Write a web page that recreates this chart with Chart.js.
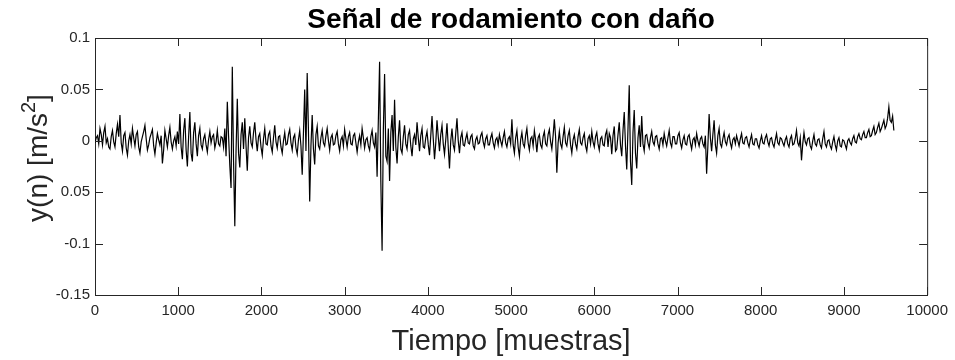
<!DOCTYPE html>
<html>
<head>
<meta charset="utf-8">
<script src="https://cdn.jsdelivr.net/npm/chart.js@4"></script>
<style>
  body { margin: 0; background: #fff; }
</style>
</head>
<body>
<canvas id="signalChart" width="955" height="360"></canvas>
<script>
// sample spacing of the values below, in samples
const sampleStep = 15;

// y(n), in thousandths of m/s^2
const signalMilli = [
  -2, 3, 5, -3, 12, 6, -4, 8, 14, -2, 2, -6, -8, 4, 10, -1, -6, 7, 16, 4,
  25, -2, -10, 5, 8, -7, -14, 0, 6, -3, 12, 3, -5, 6, 9, -6, -12, -1, 4, 9,
  15, 2, -9, -4, 3, 7, 11, -5, -13, -2, 7, 1, -4, 5, -22, -9, 10, 2, -6, 5,
  13, -1, -8, 0, 4, -5, 9, -3,
  26, -6, -18, 10, 22, -9, -25, 4, 28, -12, -20, 8, 18, -3, -15, 5, 12, -4,
  -8, 2, 6, -4, -11, 1, 9, -2, 4, 6, -7, -1, 10, -3, -5, 4, 3, -6,
  12, -15, 38, 5, -24, -46, 72, -20, -83, -10, 41, -12, -26, 6, 18, -8,
  22, -5, -29, 3, 14, -2, -6, 8, 18, 1, -10, 4, 7, -6, -14, 2, 12, -3, -4, 6,
  9, -5, -11, 3, 15, -1, -7, 4, 5, -6, -12, 0, 8, -4, -3, 6, 11, -2, -9, 3,
  6, -7, -13, 1, 10, -5,
  -33, 8, 50, -10, 66, 10, -59, -5, 25, -8, -23, 6, 14, -5,
  -8, 3, 10, -2, -5, 5, 12, 0, -9, 3, 6, -4, -3, 5, 9, -3, -10, 1, 4, -5,
  11, 2, -6, 4, 8, -3, -4, 5, 7, -2, -11, -1, 5, -4, 12, 3, -7, 1, 3, -5,
  -9, 4, 10, -2, -6, 8,
  -35, 20, 77, -40, -107, 10, 65, -15, -20, 12, -39, 8, 25, -10, 40, -6, -22, 4, 20, -8,
  -12, 4, 15, -3, -8, 6, 10, -5, -15, 2, 6, -4, 18, 3, -10, 5, 12, -6, -7, 3,
  9, -4, -14, 5, 24, 2, -18, -2, 20, 4, -10, 6, 15, -3, -13, 1, 17, -6, -27, 0,
  12, -4, -9, 7, 22, 0, -12, 3, 8, -4,
  -5, 2, 7, -2, -3, 4, 6, -5, -8, 1, 4, -3, -2, 5, 8, -1, -6, 2, 5, -4,
  -4, 3, 7, -2, -7, 1, 3, -4, 6, 0, -5, 3, 9, -2, -6, 2, 4, -3,
  21, -4, -12, 3, 10, -6, -15, 1, 8, -3, -6, 5, 12, -2, -9, 2, 4, -5, 10, 1,
  -11, 3, 6, -4, -7, 4, 9, -3, -5, 6, 11, -1, -8, 5,
  21, 4, -31, -2,
  9, -3, -7, 4, 13, -2, -5, 5, 10, -4, -12, 1, 6, -3, -8, 4, 11, -2, -4, 3,
  7, -5, -10, 2, 5, -3, 9, -1, -6, 4, 8, -3, -9, 2, 4, -4, -5, 6, 10, -6,
  7, 3, -13, 5, 14, -10, -8, 6, 18, -4,
  -15, 10, 28, -5, -28, 12, 54, -20, -43, 8, 30, -12, -27, 3, 15, -6, 24, -3, -10, 5,
  6, -2, -7, 3, 9, -1, -4, 4, 5, -3, -8, 2, 3, -4, 7, 0, -5, 3, 10, -2,
  -6, 4, 4, -3, -3, 5, 8, -2, -7, 1, 5, -3, -4, 4, 6, -2, -8, 1, 3, -4,
  7, 0, -5, 2, 4, -3, -6, 5,
  -32, -5, 26, 3, -10, 6, 20, -4, -12, 5, 12, -3,
  -6, 2, 8, -1, -4, 3, 6, -2, -7, 1, 3, -3, 5, 0, -5, 2, 7, -2, -3, 3,
  4, -2, -6, 1, 6, -3, -4, 2, 2, -4, -7, 0, 5, -2, -3, 3, 6, -1, -5, 2,
  3, -3, -6, 1, 7, -2, -4, 3, 2, -2, -5, 1, 4, -3, -6, 2, 5, -4, -3, 2,
  10, -2, -5, 3, -19, -3, 8, -1, -4, 2, 3, -5, -8, 0, 6, -3, -5, 1, 2, -4,
  -7, 2, 9, -3, -6, 0, 1, -5, -8, -1, 4, -4, -9, 0, 3, -5, -6, 1, 0, -4,
  -8, 0, 2, -2,
  -4, 2, 5, -1, -2, 4, 7, 2, 1, 6, 9, 3, 3, 8, 11, 4, 5, 10, 14, 6,
  8, 13, 17, 9, 12, 16, 20, 12, 15, 22, 33, 20, 18, 24, 10
];

const xTicks = [0, 1000, 2000, 3000, 4000, 5000, 6000, 7000, 8000, 9000, 10000];
const yTicks = [-0.15, -0.1, -0.05, 0, 0.05, 0.1];
const yTickLabels = ["-0.15", "-0.1", "0.05", "0", "0.05", "0.1"];

const titleText = "Señal de rodamiento con daño";
const xLabelText = "Tiempo [muestras]";

const points = signalMilli.map((v, i) => ({ x: i * sampleStep, y: v / 1000 }));

const axisColor = "#262626";
const fontFamily = "'Liberation Sans', Arial, Helvetica, sans-serif";

// MATLAB style box: top/right edges, inward ticks, title and axis labels
const matlabFrame = {
  id: "matlabFrame",
  afterDraw: (chart) => {
    const { ctx, chartArea: a, scales } = chart;
    const tick = 8;
    ctx.save();
    ctx.strokeStyle = axisColor;
    ctx.lineWidth = 1;
    ctx.beginPath();
    ctx.moveTo(a.left, a.top + 0.5);
    ctx.lineTo(a.right + 0.5, a.top + 0.5);
    ctx.lineTo(a.right + 0.5, a.bottom);
    xTicks.forEach((t) => {
      const px = Math.round(scales.x.getPixelForValue(t)) + 0.5;
      ctx.moveTo(px, a.bottom);
      ctx.lineTo(px, a.bottom - tick);
      ctx.moveTo(px, a.top);
      ctx.lineTo(px, a.top + tick);
    });
    yTicks.forEach((t) => {
      const py = Math.round(scales.y.getPixelForValue(t)) + 0.5;
      ctx.moveTo(a.left, py);
      ctx.lineTo(a.left + tick, py);
      ctx.moveTo(a.right, py);
      ctx.lineTo(a.right - tick, py);
    });
    ctx.stroke();

    const cx = (a.left + a.right) / 2;
    ctx.fillStyle = "#000";
    ctx.textAlign = "center";
    ctx.textBaseline = "alphabetic";
    ctx.font = "bold 28px " + fontFamily;
    ctx.fillText(titleText, cx, 28);

    ctx.fillStyle = axisColor;
    ctx.font = "29px " + fontFamily;
    ctx.fillText(xLabelText, cx, 350);

    // y label with superscript 2
    const base = "28px " + fontFamily;
    const sup = "20px " + fontFamily;
    ctx.font = base;
    const p1 = "y(n) [m/s", p3 = "]";
    const w1 = ctx.measureText(p1).width;
    const w3 = ctx.measureText(p3).width;
    ctx.font = sup;
    const w2 = ctx.measureText("2").width;
    const total = w1 + w2 + w3;
    ctx.translate(47, 158);
    ctx.rotate(-Math.PI / 2);
    ctx.textAlign = "left";
    ctx.font = base;
    ctx.fillText(p1, -total / 2, 0);
    ctx.font = sup;
    ctx.fillText("2", -total / 2 + w1, -12);
    ctx.font = base;
    ctx.fillText(p3, -total / 2 + w1 + w2, 0);
    ctx.restore();
  },
};

new Chart(document.getElementById("signalChart").getContext("2d"), {
  type: "line",
  data: {
    datasets: [
      {
        data: points,
        borderColor: "#000",
        borderWidth: 1.2,
        pointRadius: 0,
        tension: 0,
        fill: false,
      },
    ],
  },
  options: {
    responsive: false,
    animation: false,
    layout: { padding: { top: 38, right: 24, left: 0, bottom: 0 } },
    plugins: {
      legend: { display: false },
      tooltip: { enabled: false },
    },
    scales: {
      x: {
        type: "linear",
        min: 0,
        max: 10000,
        afterBuildTicks: (scale) => {
          scale.ticks = xTicks.map((v) => ({ value: v }));
        },
        afterFit: (scale) => {
          scale.height = 65;
        },
        grid: { display: false, drawTicks: false },
        border: { display: true, color: axisColor, width: 1 },
        ticks: {
          color: axisColor,
          padding: 7,
          maxRotation: 0,
          font: { family: fontFamily, size: 15 },
          callback: (v) => String(v),
        },
      },
      y: {
        type: "linear",
        min: -0.15,
        max: 0.1,
        afterBuildTicks: (scale) => {
          scale.ticks = yTicks.map((v) => ({ value: v }));
        },
        afterFit: (scale) => {
          scale.width = 95;
        },
        grid: { display: false, drawTicks: false },
        border: { display: true, color: axisColor, width: 1 },
        ticks: {
          color: axisColor,
          padding: 5,
          font: { family: fontFamily, size: 15 },
          callback: (v) => yTickLabels[yTicks.indexOf(v)] ?? "",
        },
      },
    },
  },
  plugins: [matlabFrame],
});
</script>
</body>
</html>
